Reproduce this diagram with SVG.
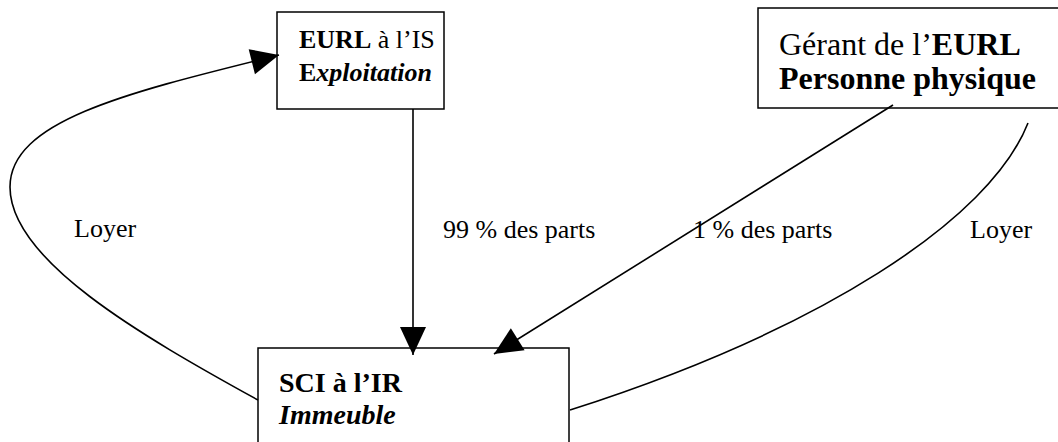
<svg xmlns="http://www.w3.org/2000/svg" width="1058" height="442" viewBox="0 0 1058 442">
<style>
.box{fill:#fff;stroke:#000;stroke-width:1.5}
.t{font-family:"Liberation Serif","Tinos","Times New Roman","Noto Serif","DejaVu Serif",serif;fill:#000}
.lbl{font-size:26px}
.c{fill:none;stroke:#000;stroke-width:1.6}
.b{font-weight:bold}
.i{font-style:italic}
</style>
<defs>
<marker id="ah" markerUnits="userSpaceOnUse" markerWidth="28" markerHeight="26" refX="28" refY="13" orient="auto" overflow="visible">
<path d="M0,0 L28,13 L0,26 z" fill="#000"/>
</marker>
</defs>
<rect width="1058" height="442" fill="#fff"/>
<g id="node-eurl">
<rect class="box" x="277" y="12" width="167" height="97"/>
<text class="t" x="299" y="48" font-size="26"><tspan class="b">EURL</tspan> à l’IS</text>
<text class="t b" x="299" y="81" font-size="26">E<tspan class="i">xploitation</tspan></text>
</g>
<g id="node-gerant">
<rect class="box" x="758" y="8" width="310" height="100"/>
<text class="t" x="779" y="55" font-size="32">Gérant de l’<tspan class="b">EURL</tspan></text>
<text class="t b" x="779" y="89" font-size="32">Personne physique</text>
</g>
<g id="node-sci">
<rect class="box" x="258" y="348" width="311" height="120"/>
<text class="t b" x="279" y="392" font-size="28">SCI à l’IR</text>
<text class="t b i" x="279" y="424" font-size="28">Immeuble</text>
</g>
<g id="connectors">
<path class="c" d="M413,109 L413,355" marker-end="url(#ah)"/>
<path class="c" d="M893,105 L494,354" marker-end="url(#ah)"/>
<path class="c" d="M258,400 C140,335 10,260 10,187 C10,120 130,92 279,55" marker-end="url(#ah)"/>
<path class="c" d="M1028,123 C990,220 820,330 570,410"/>
</g>
<g id="labels">
<text class="t lbl" x="74" y="237">Loyer</text>
<text class="t lbl" x="443" y="238">99 % des parts</text>
<text class="t lbl" x="693" y="238">1 % des parts</text>
<text class="t lbl" x="970" y="238">Loyer</text>
</g>
</svg>
